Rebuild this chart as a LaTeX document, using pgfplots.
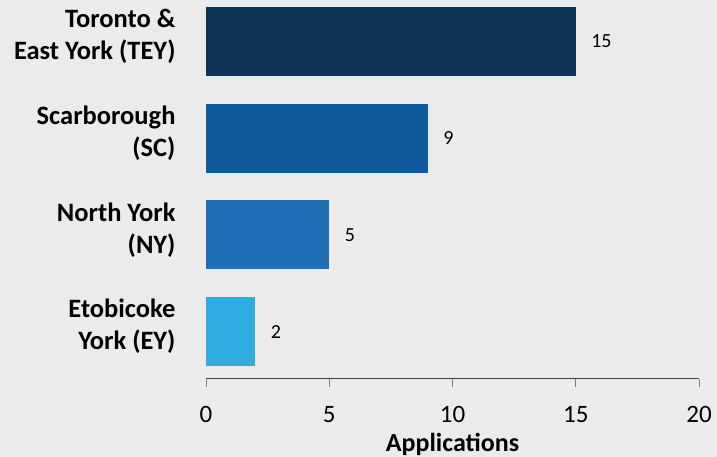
\documentclass[border=0pt]{standalone}
\usepackage{fontspec}
\setmainfont{Carlito}
\usepackage{pgfplots}
\pgfplotsset{compat=1.18}
\definecolor{bg}{HTML}{EBEBEB}
\definecolor{cTEY}{HTML}{0D3357}
\definecolor{cSC}{HTML}{0F5A9C}
\definecolor{cNY}{HTML}{1F6EB6}
\definecolor{cEY}{HTML}{2FACE1}
\definecolor{axc}{HTML}{404040}
\begin{document}
\begin{tikzpicture}[x=1pt,y=1pt]
\fill[bg] (0,0) rectangle (717,457);
\begin{axis}[
  at={(206pt,78pt)}, anchor=south west,
  scale only axis, width=493pt, height=379pt,
  xmin=0, xmax=20, ymin=-0.491, ymax=3.429,
  xbar, bar width=69pt, bar shift=0pt,
  axis x line*=bottom, axis y line*=left,
  y axis line style={draw=none},
  ytick style={draw=none},
  x axis line style={draw=axc, line width=1pt},
  xtick={0,5,10,15,20},
  x tick style={draw=gray, line width=1pt},
  tick align=outside, major tick length=8pt,
  xtick pos=bottom,
  /pgf/number format/assume math mode=true,
  xticklabel style={font=\fontsize{25}{25}\selectfont, text=black, yshift=-16pt},
  ytick={0,1,2,3},
  yticklabels={{Etobicoke\\York (EY)},{North York\\(NY)},{Scarborough\\(SC)},{Toronto \&\\East York (TEY)}},
  yticklabel style={align=right, font=\bfseries\fontsize{26.5}{32}\selectfont, text=black, xshift=-19pt, yshift=5pt},
  xlabel={\textbf{Applications}},
  xlabel style={font=\fontsize{26}{26}\selectfont, yshift=-3pt},
  nodes near coords,
  every node near coord/.append style={font=\fontsize{20}{20}\selectfont, text=black, anchor=west, xshift=12pt},
]
\addplot[draw=none, fill=cTEY] coordinates {(15,3)};
\addplot[draw=none, fill=cSC] coordinates {(9,2)};
\addplot[draw=none, fill=cNY] coordinates {(5,1)};
\addplot[draw=none, fill=cEY] coordinates {(2,0)};
\end{axis}
\pgfresetboundingbox
\useasboundingbox (0,0) rectangle (717,457);
\end{tikzpicture}
\end{document}
